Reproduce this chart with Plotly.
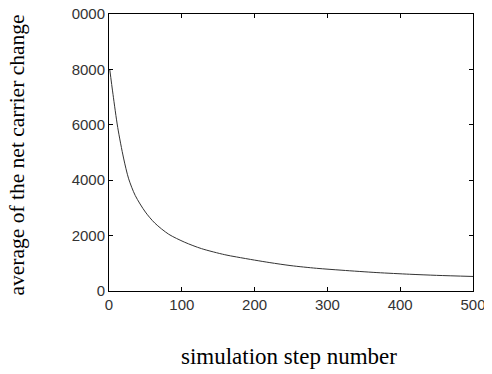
import plotly.graph_objects as go

# Data
step = [1, 5.5, 12, 20, 27, 36, 50, 63, 82, 104, 127, 159, 175, 200, 221, 250, 285, 320, 368, 413, 450, 500]
avg_change = [8000, 7100, 5900, 4800, 4050, 3450, 2850, 2450, 2050, 1760, 1530, 1310, 1230, 1115, 1025, 915, 820, 750, 665, 605, 565, 525]

x_ticks = [0, 100, 200, 300, 400, 500]
x_ticktext = ["0", "100", "200", "300", "400", "500"]
y_ticks = [0, 2000, 4000, 6000, 8000, 10000]
y_ticktext = ["0", "2000", "4000", "6000", "8000", "0000"]

fig = go.Figure()
fig.add_trace(go.Scatter(x=step, y=avg_change, mode="lines",
                         line=dict(color="#333333", width=1, shape="spline", smoothing=0.8),
                         showlegend=False, hoverinfo="skip"))

axis_common = dict(showline=True, linecolor="black", linewidth=1, mirror="ticks",
                   ticks="inside", ticklen=4, tickcolor="black", tickwidth=1,
                   showgrid=False, zeroline=False, automargin=False,
                   ticklabeloverflow="allow",
                   tickfont=dict(family="Liberation Sans, Arial, sans-serif", size=15, color="#333333"))

fig.update_xaxes(range=[0, 500], tickvals=x_ticks, ticktext=x_ticktext, **axis_common)
fig.update_yaxes(range=[0, 10000], tickvals=y_ticks, ticktext=y_ticktext, **axis_common)

fig.update_layout(
    width=492, height=374,
    margin=dict(l=101, r=27, t=6, b=91, autoexpand=False),
    paper_bgcolor="white", plot_bgcolor="white",
    annotations=[
        dict(text="simulation step number", xref="paper", yref="paper",
             x=0.494, y=-0.238, xanchor="center", yanchor="middle", showarrow=False,
             font=dict(family="Liberation Serif, Times New Roman, serif", size=23, color="black")),
        dict(text="average of the net carrier change", xref="paper", yref="paper",
             x=-0.252, y=0.49, xanchor="center", yanchor="middle", showarrow=False,
             textangle=-90,
             font=dict(family="Liberation Serif, Times New Roman, serif", size=21.5, color="black")),
    ],
)

fig.write_html("out.html")
